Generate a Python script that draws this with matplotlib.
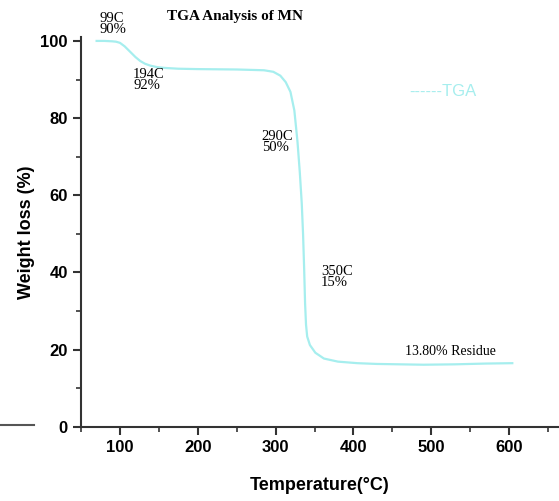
import matplotlib.pyplot as plt
from matplotlib.ticker import MultipleLocator
from matplotlib.lines import Line2D

# TGA curve
temperature = [70, 80, 90, 95, 100, 106, 113, 120, 126, 132, 139, 148, 158, 175,
               200, 250, 285, 297, 306, 313, 319, 324, 328, 331, 333.5, 335.2,
               336.6, 337.8, 339, 340.5, 344, 351, 362, 380, 405, 430, 460, 490,
               530, 570, 604]
weight = [100, 100, 99.9, 99.8, 99.5, 98.6, 97.2, 95.8, 94.8, 94.1, 93.6, 93.2,
          93.0, 92.8, 92.7, 92.6, 92.4, 92.0, 91.0, 89.3, 86.8, 82.0, 74.0, 66.0,
          58.0, 50.0, 41.0, 32.0, 26.5, 23.4, 21.2, 19.2, 17.7, 16.9, 16.5,
          16.3, 16.2, 16.1, 16.2, 16.4, 16.5]

annot_text = ["99C\n90%", "194C\n92%", "290C\n50%", "350C\n15%"]
annot_x = [74, 117, 282, 358]
annot_y = [107.5, 93, 77, 42]

line_color = "#a6eeee"

fig = plt.figure(figsize=(5.59, 5.01), dpi=100)
ax = fig.add_axes([0.145, 0.148, 0.855, 0.778])

ax.plot(temperature, weight, color=line_color, lw=1.6)

ax.set_xlim(50, 664)
ax.set_ylim(0, 101)
ax.xaxis.set_major_locator(MultipleLocator(100))
ax.xaxis.set_minor_locator(MultipleLocator(50))
ax.yaxis.set_major_locator(MultipleLocator(20))
ax.yaxis.set_minor_locator(MultipleLocator(10))

for s in ["top", "right"]:
    ax.spines[s].set_visible(False)
for s in ["left", "bottom"]:
    ax.spines[s].set_linewidth(1.5)
    ax.spines[s].set_color("#333333")

ax.tick_params(which="major", direction="out", length=6, width=1.5, color="#333333")
ax.tick_params(which="minor", direction="out", length=3.5, width=1.2, color="#333333")
for lab in ax.get_xticklabels() + ax.get_yticklabels():
    lab.set_fontfamily("Liberation Sans")
    lab.set_fontweight("bold")
    lab.set_fontsize(12)

ax.set_xlabel("Temperature(\u00b0C)", fontfamily="Liberation Sans", fontweight="bold",
              fontsize=13, labelpad=16)
ax.set_ylabel("Weight loss (%)", fontfamily="Liberation Sans", fontweight="bold",
              fontsize=13, labelpad=4)

for t, x, y in zip(annot_text, annot_x, annot_y):
    ax.text(x, y, t, fontfamily="Liberation Serif", fontsize=10.5, va="top", ha="left",
            linespacing=0.8, clip_on=False)

ax.text(525, 19.5, "13.80% Residue", fontfamily="Liberation Serif", fontsize=10,
        ha="center", va="center")
ax.text(472, 87, "------TGA", fontfamily="Liberation Sans", fontsize=12,
        color=line_color, ha="left", va="center")

fig.text(0.42, 0.968, "TGA Analysis of MN", fontfamily="Liberation Serif",
         fontweight="bold", fontsize=11, ha="center", va="center")

# stray dash at the lower left of the original
fig.add_artist(Line2D([0.0, 0.06], [0.152, 0.152], color="#555555", lw=1.5))

fig.savefig("out.png", dpi=100)
